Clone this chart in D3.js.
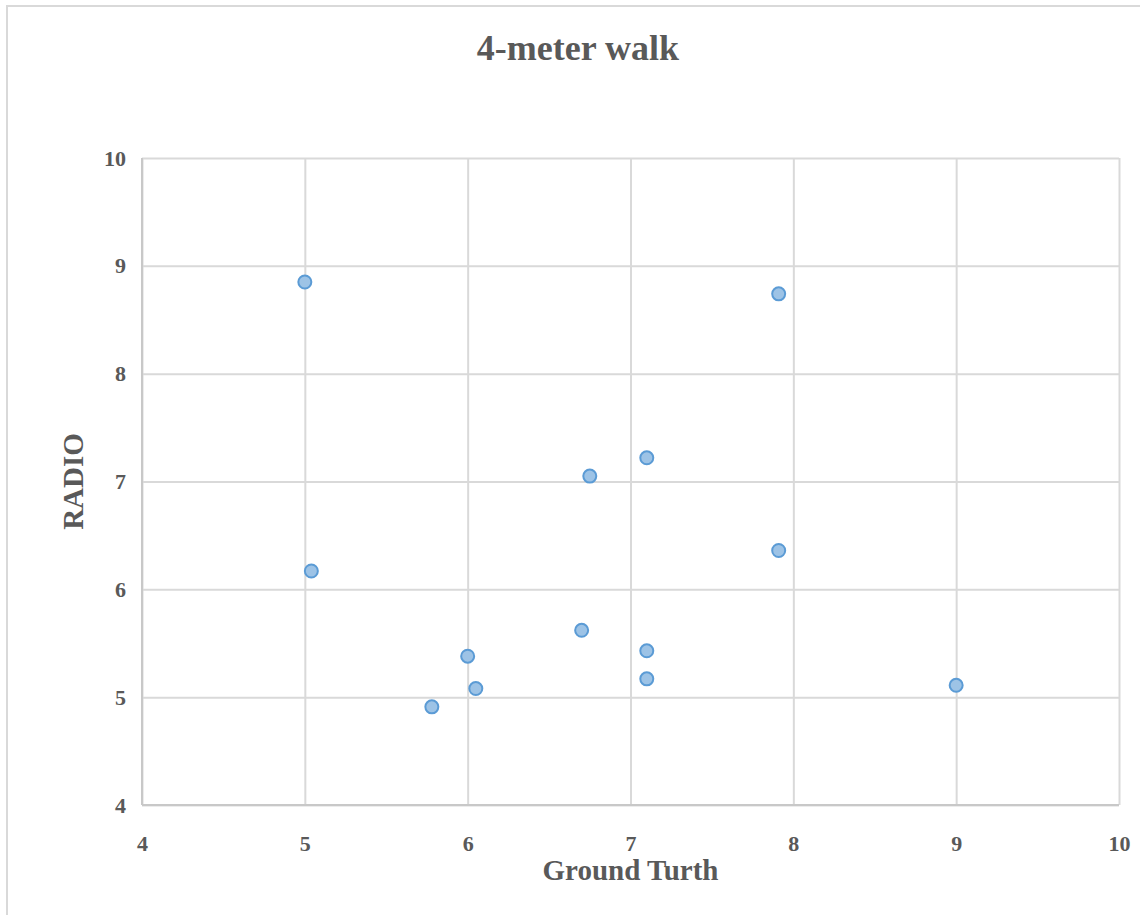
<!DOCTYPE html>
<html>
<head>
<meta charset="utf-8">
<script src="https://cdn.jsdelivr.net/npm/d3@7"></script>
<style>
	html, body { margin: 0; padding: 0; background: #fff; }
</style>
</head>
<body>
<div id="chart"></div>
<script>
// values
var groundTruth = [5.0, 7.91, 6.75, 7.1, 7.91, 5.04, 6.7, 6.0, 7.1, 7.1, 6.05, 5.78, 9.0];
var radio = [8.85, 8.74, 7.05, 7.22, 6.36, 6.17, 5.62, 5.38, 5.43, 5.17, 5.08, 4.91, 5.11];
var xTicks = [4, 5, 6, 7, 8, 9, 10];
var yTicks = [4, 5, 6, 7, 8, 9, 10];
var titleText = "4-meter walk";
var xTitle = "Ground Turth";
var yTitle = "RADIO";

drawChart()

function drawChart() {
	var svgWidth = 1140;
	var svgHeight = 915;
	var margin = { top: 158, right: 21, bottom: 110, left: 142 };
	var width = svgWidth - margin.left - margin.right;
	var height = svgHeight - margin.top - margin.bottom;
	var textColor = "#595959";
	var font = "'Liberation Serif', 'Times New Roman', serif";

	var svg = d3.select("#chart")
		.append("svg")
		.attr("width", svgWidth)
		.attr("height", svgHeight);

	// chart frame (only left/top visible in the crop)
	svg.append("rect")
		.attr("x", 7)
		.attr("y", 6)
		.attr("width", svgWidth + 20)
		.attr("height", svgHeight + 20)
		.attr("fill", "none")
		.attr("stroke", "#d9d9d9")
		.attr("stroke-width", 2);

	var g = svg.append("g")
		.attr("transform", `translate(${margin.left},${margin.top})`);

	var x = d3.scaleLinear().domain([4, 10]).range([0, width]);
	var y = d3.scaleLinear().domain([4, 10]).range([height, 0]);

	// gridlines
	g.append("g")
		.attr("class", "xgrid")
		.call(d3.axisBottom(x).tickValues(xTicks).tickSize(-height).tickFormat(""))
		.attr("transform", `translate(0,${height})`)
		.call(a => a.select(".domain").remove())
		.selectAll("line")
		.attr("stroke", "#d9d9d9")
		.attr("stroke-width", 2);

	g.append("g")
		.attr("class", "ygrid")
		.call(d3.axisLeft(y).tickValues(yTicks).tickSize(-width).tickFormat(""))
		.call(a => a.select(".domain").remove())
		.selectAll("line")
		.attr("stroke", "#d9d9d9")
		.attr("stroke-width", 2);

	// axis lines
	g.append("line")
		.attr("x1", 0).attr("x2", width)
		.attr("y1", height).attr("y2", height)
		.attr("stroke", "#c8c8c8").attr("stroke-width", 2);
	g.append("line")
		.attr("x1", 0).attr("x2", 0)
		.attr("y1", 0).attr("y2", height)
		.attr("stroke", "#c8c8c8").attr("stroke-width", 2);

	// tick labels
	var xAxis = g.append("g")
		.attr("transform", `translate(0,${height})`)
		.call(d3.axisBottom(x).tickValues(xTicks).tickSize(0).tickPadding(30).tickFormat(d3.format("d")));
	xAxis.select(".domain").remove();
	xAxis.selectAll("text")
		.style("font-family", font)
		.style("font-size", "22px")
		.style("font-weight", "bold")
		.attr("fill", textColor);

	var yAxis = g.append("g")
		.call(d3.axisLeft(y).tickValues(yTicks).tickSize(0).tickPadding(16).tickFormat(d3.format("d")));
	yAxis.select(".domain").remove();
	yAxis.selectAll("text")
		.style("font-family", font)
		.style("font-size", "22px")
		.style("font-weight", "bold")
		.attr("fill", textColor);

	// points
	var pts = groundTruth.map((d, i) => ({ x: d, y: radio[i] }));
	g.selectAll(".dot")
		.data(pts)
		.enter()
		.append("circle")
		.attr("class", "dot")
		.attr("cx", d => x(d.x))
		.attr("cy", d => y(d.y))
		.attr("r", 6.5)
		.attr("fill", "#9dc3e6")
		.attr("stroke", "#5b9bd5")
		.attr("stroke-width", 2);

	// title
	svg.append("text")
		.attr("x", 578)
		.attr("y", 60)
		.style("font-family", font)
		.style("font-size", "36px")
		.style("font-weight", "bold")
		.style("text-anchor", "middle")
		.attr("fill", textColor)
		.text(titleText);

	// axis titles
	svg.append("text")
		.attr("x", margin.left + width / 2)
		.attr("y", 880)
		.style("font-family", font)
		.style("font-size", "29px")
		.style("font-weight", "bold")
		.style("text-anchor", "middle")
		.attr("fill", textColor)
		.text(xTitle);

	svg.append("text")
		.attr("transform", `translate(83,${margin.top + y(7.0)}) rotate(-90)`)
		.style("font-family", font)
		.style("font-size", "29px")
		.style("font-weight", "bold")
		.style("text-anchor", "middle")
		.attr("fill", textColor)
		.text(yTitle);
}
</script>
</body>
</html>
